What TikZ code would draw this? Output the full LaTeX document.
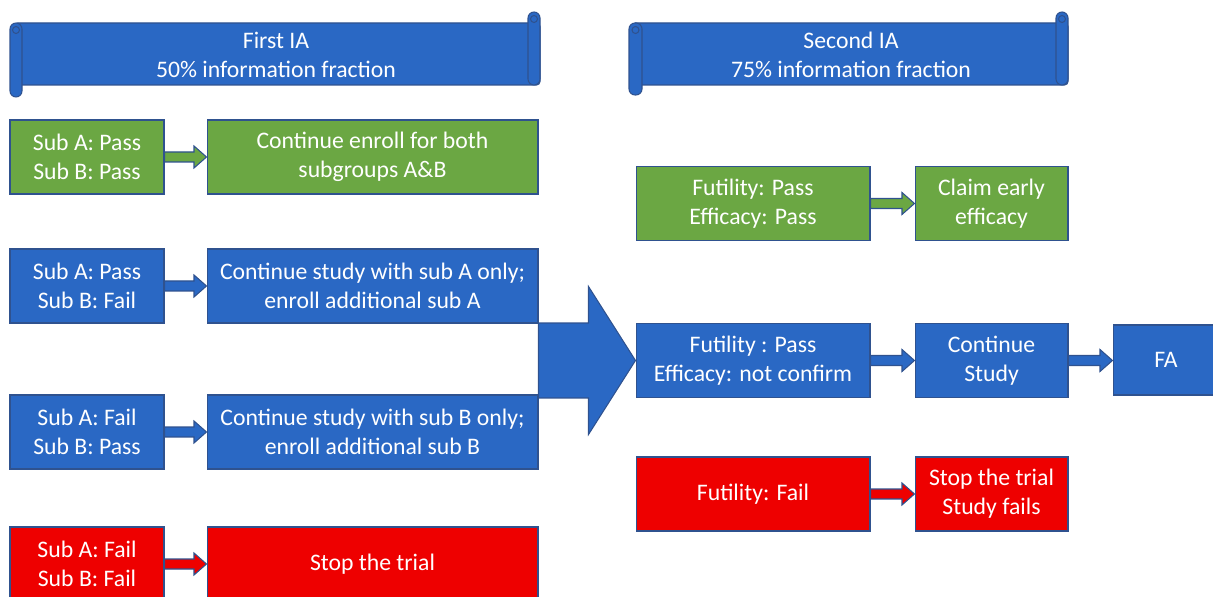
\documentclass[tikz,border=0pt]{standalone}
\usepackage{fontspec}
\setmainfont{Carlito}
\usetikzlibrary{calc}

\definecolor{boxgreen}{HTML}{6BA743}
\definecolor{boxblue}{HTML}{2A68C4}
\definecolor{boxred}{HTML}{EE0000}
\definecolor{edge}{HTML}{2F528F}

% block arrow from the east side of one node to the west side of another
\newcommand{\flowarrow}[3]{%
  \filldraw[fill=#3, draw=edge, line width=0.6pt] let \p1=(#1.east), \p2=(#2.west) in
    (\x1,{\y1+0.1cm}) -- ({\x2-0.25cm},{\y1+0.1cm}) -- ({\x2-0.25cm},{\y1+0.22cm})
    -- (\x2,\y1) -- ({\x2-0.25cm},{\y1-0.22cm}) -- ({\x2-0.25cm},{\y1-0.1cm})
    -- (\x1,{\y1-0.1cm}) -- cycle;}

\begin{document}
\begin{tikzpicture}[x=0.02cm, y=-0.02cm,
  box/.style={draw=edge, line width=0.6pt, text=white, align=center,
    font=\fontsize{13.5}{16.5}\selectfont, minimum height=1.48cm, inner sep=2pt},
  colA/.style={box, minimum width=3.08cm},
  colB/.style={box, minimum width=6.62cm},
  colC/.style={box, minimum width=4.68cm},
  colD/.style={box, minimum width=3.06cm},
  ban/.style={fill=boxblue, draw=edge, line width=0.6pt},
  curl/.style={ban, rounded corners=3.4pt}]
 \useasboundingbox (0,0) rectangle (1213,597);

 % first banner
 \filldraw[ban, rounded corners=2pt] (14,23) -- (540,23) -- (540,85) -- (14,85) -- cycle;
 \filldraw[curl] (528,12) rectangle (540,85);
 \draw[edge, line width=0.6pt] (534,19) circle (3.5);
 \filldraw[curl] (10,23) rectangle (22,97);
 \draw[edge, line width=0.6pt] (16,30) circle (3.5);
 \node[text=white, align=center, font=\fontsize{13.5}{16.5}\selectfont] (ia1) at (276,55) {First IA\\50\% information fraction};

 % second banner
 \filldraw[ban, rounded corners=2pt] (632,23) -- (1068,23) -- (1068,85) -- (632,85) -- cycle;
 \filldraw[curl] (1056,12) rectangle (1068,85);
 \draw[edge, line width=0.6pt] (1062,19) circle (3.5);
 \filldraw[curl] (629,23) rectangle (642,95);
 \draw[edge, line width=0.6pt] (635.5,30) circle (3.5);
 \node[text=white, align=center, font=\fontsize{13.5}{16.5}\selectfont] (ia2) at (851,55) {Second IA\\75\% information fraction};

 % first IA
 \node[colA, fill=boxgreen] (a1) at (87,157) {Sub A: Pass\\Sub B: Pass};
 \node[colB, fill=boxgreen] (b1) at (372.5,157) {Continue enroll for both\\subgroups A\&B};
 \node[colA, fill=boxblue] (a2) at (87,286) {Sub A: Pass\\Sub B: Fail};
 \node[colB, fill=boxblue] (b2) at (372.5,286) {Continue study with sub A only;\\enroll additional sub A};
 \node[colA, fill=boxblue] (a3) at (87,432) {Sub A: Fail\\Sub B: Pass};
 \node[colB, fill=boxblue] (b3) at (372.5,432) {Continue study with sub B only;\\enroll additional sub B};
 \node[colA, fill=boxred] (a4) at (87,564) {Sub A: Fail\\Sub B: Fail};
 \node[colB, fill=boxred] (b4) at (372.5,564) {Stop the trial};

 % second IA
 \node[colC, fill=boxgreen] (c1) at (753,203.5) {Futility: Pass\\Efficacy: Pass};
 \node[colD, fill=boxgreen] (d1) at (991.5,203.5) {Claim early\\efficacy};
 \node[colC, fill=boxblue] (c2) at (753,360.5) {Futility : Pass\\Efficacy: not confirm};
 \node[colD, fill=boxblue] (d2) at (991.5,360.5) {Continue\\Study};
 \node[colC, fill=boxred] (c3) at (753,494) {Futility: Fail};
 \node[colD, fill=boxred] (d3) at (991.5,494) {Stop the trial\\Study fails};
 \node[box, fill=boxblue, minimum width=2.12cm, minimum height=1.4cm] (fa) at (1166,360) {FA};

 \flowarrow{a1}{b1}{boxgreen}
 \flowarrow{a2}{b2}{boxblue}
 \flowarrow{a3}{b3}{boxblue}
 \flowarrow{a4}{b4}{boxred}
 \flowarrow{c1}{d1}{boxgreen}
 \flowarrow{c2}{d2}{boxblue}
 \flowarrow{c3}{d3}{boxred}
 \flowarrow{d2}{fa}{boxblue}

 % big arrow between the two analyses
 \filldraw[fill=boxblue, draw=edge, line width=0.6pt] let \p1=(b2.east), \p2=(c2.west) in
   (\x1,{\y2+0.75cm}) -- ({\x2-0.94cm},{\y2+0.75cm}) -- ({\x2-0.94cm},{\y2+1.48cm})
   -- (\x2,\y2) -- ({\x2-0.94cm},{\y2-1.48cm}) -- ({\x2-0.94cm},{\y2-0.75cm})
   -- (\x1,{\y2-0.75cm}) -- cycle;
\end{tikzpicture}
\end{document}
